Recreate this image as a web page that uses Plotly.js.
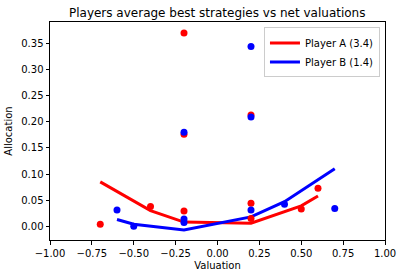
<!DOCTYPE html>
<html>
<head>
<meta charset="utf-8">
<script src="https://cdn.plot.ly/plotly-3.0.1.min.js"></script>
<style>html,body{margin:0;padding:0;background:#fff;}#chart{width:403px;height:278px;}</style>
</head>
<body>
<div id="chart"></div>
<script>
// Player A (red) scatter points
const aDotX = [-0.7, -0.4, -0.2, -0.2, -0.2, 0.2, 0.2, 0.2, 0.5, 0.6];
const aDotY = [0.004, 0.038, 0.370, 0.176, 0.029, 0.213, 0.044, 0.015, 0.033, 0.073];
// Player B (blue) scatter points
const bDotX = [-0.6, -0.5, -0.2, -0.2, -0.2, 0.2, 0.2, 0.2, 0.4, 0.7];
const bDotY = [0.031, 0.000, 0.180, 0.014, 0.007, 0.344, 0.209, 0.031, 0.042, 0.034];
// Average lines
const aLineX = [-0.7, -0.4, -0.2, 0.2, 0.5, 0.6];
const aLineY = [0.085, 0.030, 0.008, 0.006, 0.039, 0.058];
const bLineX = [-0.6, -0.5, -0.2, 0.2, 0.4, 0.7];
const bLineY = [0.013, 0.004, -0.007, 0.018, 0.047, 0.110];
const names = ["Player A (3.4)", "Player B (1.4)"];
const xTicks = [-1, -0.75, -0.5, -0.25, 0, 0.25, 0.5, 0.75, 1];

const font = {family: "DejaVu Sans", size: 10, color: "#000"};
const traces = [
  {x: aLineX, y: aLineY, mode: "lines", line: {color: "#ff0000", width: 3}, name: names[0], showlegend: true},
  {x: bLineX, y: bLineY, mode: "lines", line: {color: "#0000ff", width: 3}, name: names[1], showlegend: true},
  {x: aDotX, y: aDotY, mode: "markers", marker: {color: "#ff0000", size: 7}, showlegend: false},
  {x: bDotX, y: bDotY, mode: "markers", marker: {color: "#0000ff", size: 7}, showlegend: false}
];
const axisCommon = {showgrid: false, zeroline: false, showline: true, mirror: true, linecolor: "#000", linewidth: 1,
  ticks: "outside", ticklen: 3.5, tickwidth: 1, tickcolor: "#000", tickfont: font};
const layout = {
  width: 403, height: 278,
  margin: {l: 50, r: 18, t: 22, b: 38},
  paper_bgcolor: "#fff", plot_bgcolor: "#fff",
  font: font,
  title: {text: "Players average best strategies vs net valuations", font: {family: "DejaVu Sans", size: 12, color: "#000"}, x: 0.539, xanchor: "center", y: 0.955, yanchor: "middle"},
  xaxis: Object.assign({}, axisCommon, {range: [-1, 1], tickvals: xTicks, tickformat: ".2f",
    title: {text: "Valuation", font: font, standoff: 4}}),
  yaxis: Object.assign({}, axisCommon, {range: [-0.0263, 0.391], dtick: 0.05, tick0: 0, tickformat: ".2f",
    title: {text: "Allocation", font: font, standoff: 6}}),
  showlegend: true,
  legend: {x: 0.985, xanchor: "right", y: 0.975, yanchor: "top", bgcolor: "rgba(255,255,255,0.8)",
    bordercolor: "#ccc", borderwidth: 1, font: font, tracegroupgap: 0, itemwidth: 30}
};
Plotly.newPlot("chart", traces, layout, {displayModeBar: false, staticPlot: true});
</script>
</body>
</html>
